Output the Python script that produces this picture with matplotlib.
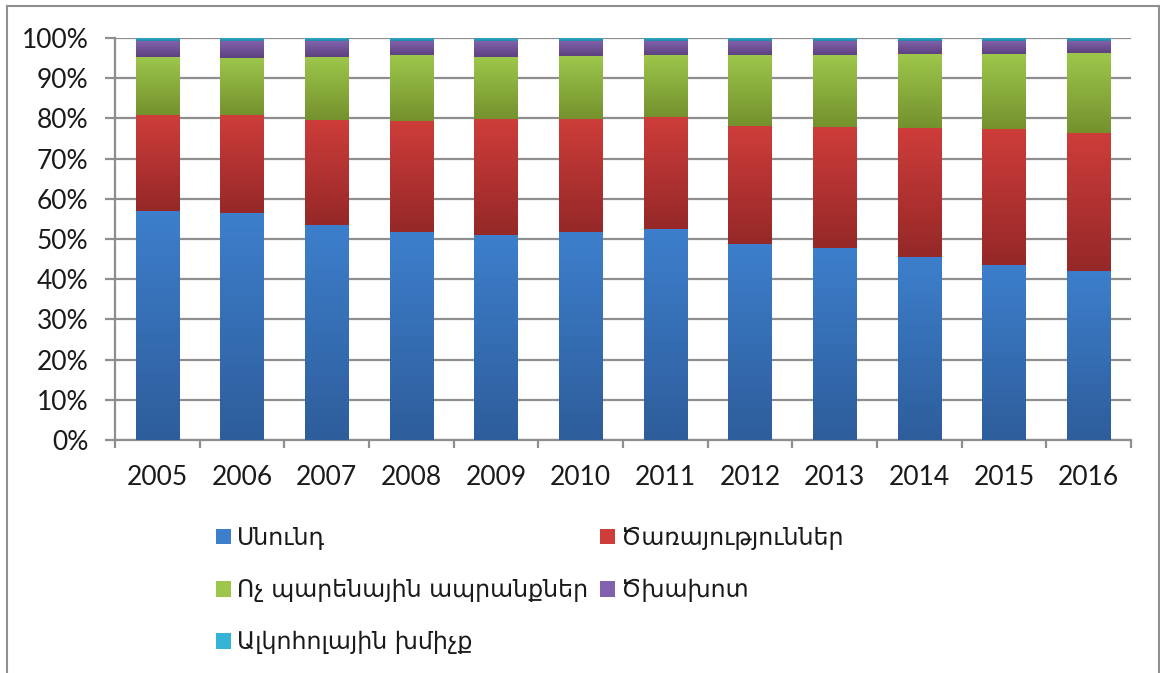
import numpy as np
import matplotlib
matplotlib.use('Agg')
import matplotlib.pyplot as plt
from matplotlib.colors import LinearSegmentedColormap
from matplotlib.lines import Line2D

plt.rcParams['font.family'] = ['Lato', 'DejaVu Sans']

years = ['2005', '2006', '2007', '2008', '2009', '2010',
         '2011', '2012', '2013', '2014', '2015', '2016']
food = [57.0, 56.5, 53.5, 51.7, 51.0, 51.7, 52.5, 48.8, 47.8, 45.5, 43.5, 42.0]
services = [23.8, 24.3, 26.2, 27.7, 28.9, 28.2, 27.8, 29.3, 30.1, 32.1, 33.9, 34.4]
nonfood = [14.5, 14.2, 15.6, 16.4, 15.4, 15.6, 15.5, 17.7, 17.9, 18.4, 18.6, 19.9]
tobacco = [3.9, 4.2, 3.9, 3.4, 3.9, 3.7, 3.4, 3.4, 3.4, 3.2, 3.2, 2.9]
alcohol = [0.8, 0.8, 0.8, 0.8, 0.8, 0.8, 0.8, 0.8, 0.8, 0.8, 0.8, 0.8]
names = ['Սնունդ', 'Ծառայություններ', 'Ոչ պարենային ապրանքներ', 'Ծխախոտ', 'Ալկոհոլային խմիչք']
yticklabels = ['0%', '10%', '20%', '30%', '40%', '50%', '60%', '70%', '80%', '90%', '100%']

# (bottom colour, top colour) for the vertical gradient of each series
colors = [('#2e5d9b', '#3d7fcc'),
          ('#952828', '#ce3d3a'),
          ('#74912d', '#9dc74b'),
          ('#5c4280', '#8161ab'),
          ('#2384a4', '#36b4d8')]

fig = plt.figure(figsize=(11.6, 6.73), dpi=100)
ax = fig.add_axes([115 / 1160, 1 - 440 / 673, (1131 - 115) / 1160, (440 - 38) / 673])

x = np.arange(len(years))
bottom = np.zeros(len(years))
grad = np.linspace(0, 1, 256).reshape(-1, 1)
containers = []
for vals, name, (c0, c1) in zip([food, services, nonfood, tobacco, alcohol], names, colors):
    bars = ax.bar(x, vals, 0.51, bottom=bottom, color=c1, label=name, zorder=3, linewidth=0)
    cmap = LinearSegmentedColormap.from_list(name, [c0, c1])
    for p in bars:
        x0, y0 = p.get_x(), p.get_y()
        im = ax.imshow(grad, extent=[x0, x0 + p.get_width(), y0, y0 + p.get_height()],
                       origin='lower', aspect='auto', cmap=cmap, zorder=3.5)
        im.set_clip_path(p)
    containers.append(bars)
    bottom = bottom + np.array(vals)

ax.set_xlim(-0.5, len(years) - 0.5)
ax.set_ylim(0, 100)
ax.set_yticks(np.arange(0, 101, 10))
ax.set_yticklabels(yticklabels)
ax.set_xticks(x)
ax.set_xticklabels(years)
ax.set_xticks(np.arange(-0.5, len(years), 1), minor=True)

ax.grid(axis='y', color='#8e8e8e', linewidth=1.6, zorder=0)
ax.set_axisbelow(True)
for s in ['top', 'right']:
    ax.spines[s].set_visible(False)
for s in ['left', 'bottom']:
    ax.spines[s].set_color('#8e8e8e')
    ax.spines[s].set_linewidth(1.6)

ax.tick_params(axis='y', length=7, width=1.6, color='#8e8e8e', pad=12, labelsize=19, labelcolor='#1a1a1a')
ax.tick_params(axis='x', which='major', length=0, pad=18, labelsize=19, labelcolor='#1a1a1a')
ax.tick_params(axis='x', which='minor', length=6, width=1.6, color='#8e8e8e')

order = [0, 2, 4, 1, 3]
leg = fig.legend([containers[i] for i in order], [names[i] for i in order],
                 ncol=2, loc='upper left', bbox_to_anchor=(204 / 1160, 1 - 514 / 673),
                 frameon=False, fontsize=17, handlelength=0.64, handleheight=0.64,
                 handletextpad=0.25, labelspacing=1.2, columnspacing=0.5, borderpad=0)
for t in leg.get_texts():
    t.set_family(['DejaVu Sans'])
    t.set_color('#1a1a1a')

# outer chart frame
fc = '#8e8e8e'
fig.add_artist(Line2D([7 / 1160, 7 / 1160], [0, 1 - 6 / 673], color=fc, lw=1.5))
fig.add_artist(Line2D([7 / 1160, 1159 / 1160], [1 - 6 / 673, 1 - 6 / 673], color=fc, lw=1.5))
fig.add_artist(Line2D([1159 / 1160, 1159 / 1160], [0, 1 - 6 / 673], color=fc, lw=1.5))

fig.savefig('out.png', dpi=100)
